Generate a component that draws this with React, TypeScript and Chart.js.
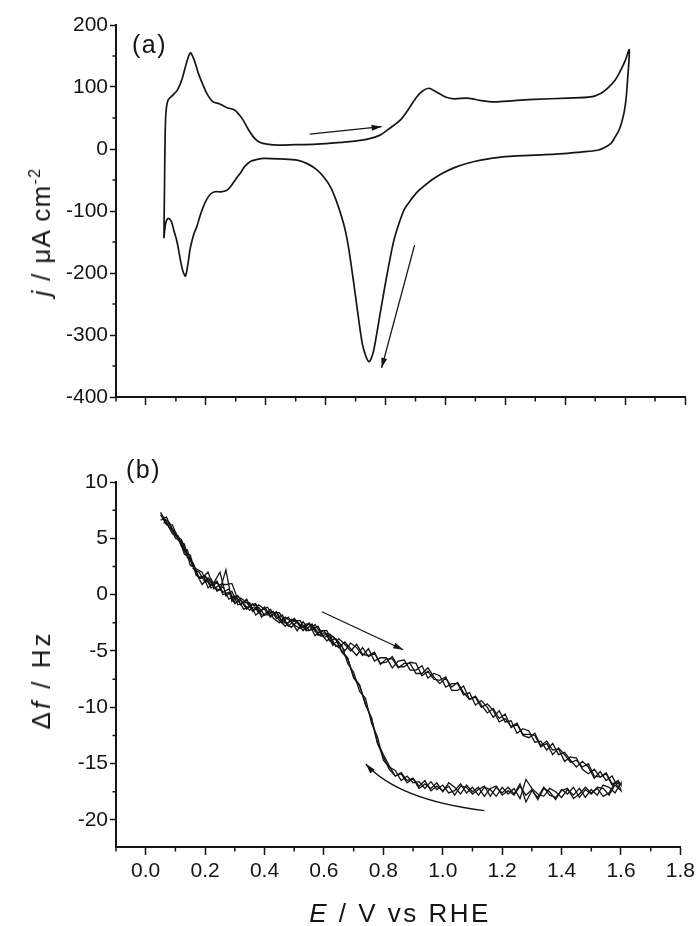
import React, { useEffect, useRef } from "react";
import { Chart, registerables } from "chart.js";

Chart.register(...registerables);

const FONT = "'Liberation Sans', Arial, Helvetica, sans-serif";
const INK = "#151515";

// ---------- Panel (a): cyclic voltammogram ----------
const cvAnodicE = [0.060, 0.062, 0.064, 0.067, 0.074, 0.090, 0.105, 0.120, 0.135, 0.148, 0.160, 0.175, 0.190, 0.205, 0.224, 0.245, 0.269, 0.296, 0.310, 0.324, 0.340, 0.358, 0.375, 0.391, 0.425, 0.500, 0.570, 0.680, 0.740, 0.780, 0.810, 0.850, 0.875, 0.904, 0.925, 0.945, 0.970, 1.000, 1.030, 1.074, 1.120, 1.163, 1.230, 1.296, 1.408, 1.486, 1.520, 1.542, 1.565, 1.580, 1.600, 1.614];
const cvAnodicJ = [-144, -60, 20, 60, 79, 87, 95, 112, 138, 155, 145, 122, 104, 88, 76, 73, 67, 63, 56, 47, 33, 20, 12, 9, 6.5, 7, 8, 12, 16, 22, 32, 47, 63, 84, 94, 98, 92, 84, 81, 82, 78, 76, 78, 80, 82, 84, 90, 98, 110, 122, 142, 160];
const cvCathodicE = [1.608, 1.603, 1.597, 1.588, 1.580, 1.565, 1.553, 1.530, 1.508, 1.450, 1.408, 1.296, 1.185, 1.118, 1.074, 1.030, 0.995, 0.960, 0.928, 0.905, 0.880, 0.862, 0.845, 0.828, 0.806, 0.784, 0.761, 0.752, 0.745, 0.735, 0.722, 0.700, 0.678, 0.665, 0.650, 0.633, 0.616, 0.595, 0.572, 0.540, 0.505, 0.450, 0.393, 0.370, 0.349, 0.330, 0.315, 0.302, 0.282, 0.269, 0.250, 0.230, 0.215, 0.202, 0.190, 0.180, 0.170, 0.160, 0.148, 0.140, 0.132, 0.124, 0.115, 0.104, 0.093, 0.085, 0.076, 0.070, 0.065, 0.060];
const cvCathodicJ = [110, 80, 60, 42, 31, 18, 9, 2, -2, -5, -7, -10, -13, -18, -23, -30, -38, -48, -60, -70, -85, -98, -120, -147, -200, -260, -324, -338, -343, -335, -313, -238, -163, -130, -104, -80, -61, -46, -34, -24, -18, -16, -15, -17, -20, -28, -39, -47, -61, -67, -69, -69, -73, -82, -95, -109, -125, -137, -160, -186, -205, -198, -179, -150, -131, -117, -112, -114, -122, -144];

// ---------- Panel (b): frequency change, three potential cycles ----------
const eForward = [0.05, 0.07, 0.09, 0.11, 0.13, 0.15, 0.17, 0.19, 0.21, 0.23, 0.25, 0.27, 0.29, 0.31, 0.33, 0.35, 0.37, 0.39, 0.41, 0.43, 0.45, 0.47, 0.49, 0.51, 0.53, 0.55, 0.57, 0.59, 0.61, 0.63, 0.65, 0.67, 0.69, 0.71, 0.73, 0.75, 0.77, 0.79, 0.81, 0.83, 0.85, 0.87, 0.89, 0.91, 0.93, 0.95, 0.97, 0.99, 1.01, 1.03, 1.05, 1.07, 1.09, 1.11, 1.13, 1.15, 1.17, 1.19, 1.21, 1.23, 1.25, 1.27, 1.29, 1.31, 1.33, 1.35, 1.37, 1.39, 1.41, 1.43, 1.45, 1.47, 1.49, 1.51, 1.53, 1.55, 1.57, 1.59, 1.60];
const eReverse = [1.60, 1.58, 1.56, 1.54, 1.52, 1.50, 1.48, 1.46, 1.44, 1.42, 1.40, 1.38, 1.36, 1.34, 1.32, 1.30, 1.28, 1.26, 1.24, 1.22, 1.20, 1.18, 1.16, 1.14, 1.12, 1.10, 1.08, 1.06, 1.04, 1.02, 1.00, 0.98, 0.96, 0.94, 0.92, 0.90, 0.88, 0.86, 0.84, 0.82, 0.80, 0.78, 0.76, 0.74, 0.72, 0.70, 0.68, 0.66, 0.64, 0.62, 0.60, 0.58, 0.56, 0.54, 0.52, 0.50, 0.48, 0.46, 0.44, 0.42, 0.40, 0.38, 0.36, 0.34, 0.32, 0.30, 0.28, 0.26, 0.24, 0.22, 0.20, 0.18, 0.16, 0.14, 0.12, 0.10, 0.08, 0.06];

const cycle1Forward = [7.1, 6.2, 6.2, 4.8, 4.5, 2.6, 2.3, 2.0, 0.6, 1.1, 2.0, -0.1, 0.3, -0.9, -0.7, -0.7, -1.8, -1.4, -1.1, -2.1, -2.5, -2.0, -2.4, -3.2, -2.4, -3.2, -2.65, -3.5, -4.1, -3.7, -4.2, -5.0, -4.3, -4.7, -5.4, -4.8, -5.9, -5.6, -5.6, -6.5, -5.9, -5.8, -6.7, -6.7, -6.3, -7.4, -7.0, -7.2, -8.2, -7.9, -7.9, -8.9, -8.7, -9.8, -9.4, -10.0, -10.9, -10.3, -11.3, -11.2, -12.3, -11.9, -12.1, -13.1, -13.0, -13.8, -13.2, -14.2, -14.0, -14.7, -15.3, -14.8, -15.3, -16.3, -15.7, -16.5, -16.1, -17.1, -16.8];
const cycle1Reverse = [-16.7, -17.6, -17.1, -16.9, -17.8, -17.3, -18.0, -17.2, -17.8, -17.3, -18.0, -17.5, -17.2, -17.9, -17.7, -17.2, -16.4, -18.1, -17.2, -17.7, -17.1, -17.9, -17.3, -17.1, -17.8, -17.1, -17.6, -16.8, -17.4, -17.6, -16.9, -17.3, -16.6, -17.2, -16.6, -16.7, -16.1, -16.5, -15.6, -15.3, -14.7, -12.6, -11.4, -9.2, -8.6, -6.9, -6.1, -4.5, -4.6, -3.6, -3.8, -2.8, -3.1, -3.2, -2.3, -2.3, -2.8, -1.8, -2.1, -1.3, -1.8, -1.1, -1.5, -0.4, -0.9, -0.1, -0.4, 0.7, 0.3, 1.4, 1.1, 2.0, 2.3, 4.0, 4.3, 5.6, 5.9, 6.9];
const cycle2Forward = [6.6, 6.9, 5.6, 5.2, 3.6, 3.2, 1.9, 0.9, 1.5, 0.6, 0.4, 2.2, -0.6, -0.1, -0.8, -1.4, -0.9, -2.0, -1.5, -1.6, -1.6, -2.5, -2.9, -2.4, -2.9, -2.6, -3.65, -3.2, -3.2, -4.3, -4.7, -4.2, -4.8, -5.4, -4.7, -5.5, -5.2, -6.1, -6.0, -5.5, -6.4, -6.4, -6.0, -6.1, -7.2, -6.8, -7.5, -7.6, -7.3, -8.5, -8.5, -8.1, -9.3, -9.0, -9.8, -10.5, -10.1, -11.0, -10.6, -11.8, -11.5, -12.5, -12.7, -12.3, -13.4, -13.0, -13.8, -13.7, -14.8, -14.4, -14.5, -15.5, -15.9, -15.5, -16.2, -15.8, -16.8, -16.6, -17.4];
const cycle2Reverse = [-17.4, -16.9, -17.8, -17.2, -17.1, -17.7, -17.3, -18.0, -17.1, -17.7, -17.3, -18.2, -17.5, -17.2, -18.2, -17.3, -17.8, -17.0, -17.8, -17.4, -17.8, -17.0, -17.2, -17.9, -17.1, -17.5, -16.9, -17.7, -17.1, -16.7, -17.5, -16.7, -17.2, -16.8, -17.2, -16.3, -16.7, -15.9, -16.1, -15.2, -14.2, -13.1, -10.9, -9.8, -8.1, -7.4, -5.6, -5.0, -3.9, -4.1, -3.2, -3.4, -2.6, -3.1, -2.7, -2.1, -2.5, -2.5, -1.6, -1.9, -1.1, -1.6, -0.8, -1.3, -0.5, -0.7, 0.5, 0.2, 1.1, 0.6, 1.6, 1.4, 2.8, 3.3, 4.8, 5.0, 6.3, 6.4];
const cycle3Forward = [7.3, 6.4, 5.4, 5.1, 3.8, 3.5, 1.7, 1.5, 2.0, 0.5, 0.9, 0.9, 1.0, -0.4, -1.3, -1.0, -0.8, -1.8, -1.8, -1.5, -2.3, -2.8, -2.2, -2.5, -3.2, -2.5, -3.25, -3.7, -3.5, -4.5, -3.9, -4.4, -5.0, -4.4, -5.3, -5.4, -5.1, -6.2, -5.7, -5.7, -6.5, -6.1, -6.1, -7.0, -7.0, -6.5, -7.3, -7.9, -7.4, -8.2, -7.8, -8.7, -9.3, -9.1, -10.0, -9.7, -10.3, -11.3, -11.0, -11.7, -11.4, -12.4, -12.4, -12.5, -13.5, -13.2, -14.2, -13.6, -14.2, -14.9, -14.7, -15.3, -15.0, -16.1, -16.2, -15.9, -16.9, -16.5, -16.9];
const cycle3Reverse = [-16.8, -16.7, -17.6, -17.9, -17.2, -17.6, -17.1, -17.7, -18.1, -17.2, -17.4, -18.0, -17.8, -17.1, -18.0, -17.4, -18.4, -16.8, -17.7, -17.1, -17.6, -17.1, -17.9, -17.0, -17.3, -17.7, -17.1, -17.0, -17.8, -17.0, -17.4, -17.0, -17.4, -16.5, -17.0, -16.3, -16.5, -15.8, -16.1, -15.5, -14.4, -13.2, -11.0, -9.7, -8.0, -7.3, -5.7, -5.1, -4.0, -3.5, -3.4, -3.6, -2.7, -2.6, -3.0, -2.7, -2.0, -2.4, -1.5, -2.0, -1.3, -0.9, -1.4, -0.7, -0.3, -0.8, 0.2, 0.0, 1.2, 0.8, 1.7, 1.5, 2.7, 3.4, 4.9, 5.2, 6.4, 6.8];

// ---------- Ticks ----------
const xTicks = [0.0, 0.2, 0.4, 0.6, 0.8, 1.0, 1.2, 1.4, 1.6, 1.8];
const xMinorTicks = [-0.1, 0.1, 0.3, 0.5, 0.7, 0.9, 1.1, 1.3, 1.5, 1.7];
const jTicks = [-400, -300, -200, -100, 0, 100, 200];
const jMinorTicks = [-350, -250, -150, -50, 50, 150];
const dfTicks = [-20, -15, -10, -5, 0, 5, 10];
const dfMinorTicks = [-17.5, -12.5, -7.5, -2.5, 2.5, 7.5];

// ---------- Sweep-direction arrows (data coordinates) ----------
const arrowsA = [
  { from: [0.547, 24], to: [0.787, 36] },
  { from: [0.897, -155], to: [0.787, -353] },
];
const arrowsB = [
  { from: [0.593, -1.52], to: [0.867, -4.89] },
  { from: [1.14, -19.17], ctrl: [0.85, -18.22], to: [0.741, -15.03] },
];

type ArrowDef = { from: number[]; to: number[]; ctrl?: number[] };

function toPoints(xs: number[], ys: number[]) {
  return xs.map((x, i) => ({ x, y: ys[i] }));
}

function decorPlugin(xMinor: number[], yMinor: number[], arrows: ArrowDef[]) {
  return {
    id: "decor",
    afterDraw(chart: any) {
      const { ctx, chartArea, scales } = chart;
      const xs = scales.x;
      const ys = scales.y;
      ctx.save();
      ctx.strokeStyle = INK;
      ctx.lineWidth = 1.5;
      ctx.beginPath();
      for (const v of xMinor) {
        const px = xs.getPixelForValue(v);
        ctx.moveTo(px, chartArea.bottom);
        ctx.lineTo(px, chartArea.bottom + 4.5);
      }
      for (const v of yMinor) {
        const py = ys.getPixelForValue(v);
        ctx.moveTo(chartArea.left, py);
        ctx.lineTo(chartArea.left - 3.5, py);
      }
      ctx.stroke();

      ctx.lineWidth = 1.3;
      ctx.fillStyle = INK;
      for (const a of arrows) {
        const p0 = [xs.getPixelForValue(a.from[0]), ys.getPixelForValue(a.from[1])];
        const p1 = [xs.getPixelForValue(a.to[0]), ys.getPixelForValue(a.to[1])];
        let dirFrom = p0;
        ctx.beginPath();
        ctx.moveTo(p0[0], p0[1]);
        if (a.ctrl) {
          const c = [xs.getPixelForValue(a.ctrl[0]), ys.getPixelForValue(a.ctrl[1])];
          ctx.quadraticCurveTo(c[0], c[1], p1[0], p1[1]);
          dirFrom = c;
        } else {
          ctx.lineTo(p1[0], p1[1]);
        }
        ctx.stroke();
        const ang = Math.atan2(p1[1] - dirFrom[1], p1[0] - dirFrom[0]);
        const len = 10;
        const half = 3;
        ctx.beginPath();
        ctx.moveTo(p1[0], p1[1]);
        ctx.lineTo(
          p1[0] - len * Math.cos(ang) + half * Math.sin(ang),
          p1[1] - len * Math.sin(ang) - half * Math.cos(ang)
        );
        ctx.lineTo(
          p1[0] - len * Math.cos(ang) - half * Math.sin(ang),
          p1[1] - len * Math.sin(ang) + half * Math.cos(ang)
        );
        ctx.closePath();
        ctx.fill();
      }
      ctx.restore();
    },
  };
}

function xScale(showLabels: boolean, height: number) {
  return {
    type: "linear" as const,
    min: -0.1,
    max: 1.8,
    afterBuildTicks: (s: any) => {
      s.ticks = xTicks.map((value) => ({ value }));
    },
    afterFit: (s: any) => {
      s.height = height;
    },
    ticks: {
      display: showLabels,
      autoSkip: false,
      maxRotation: 0,
      padding: 4,
      color: INK,
      font: { family: FONT, size: 21 },
      callback: (v: any) => Number(v).toFixed(1),
    },
    grid: {
      drawOnChartArea: false,
      drawTicks: true,
      tickLength: 8,
      tickWidth: 1.5,
      tickColor: INK,
    },
    border: { display: true, color: INK, width: 2 },
  };
}

function yScale(min: number, max: number, ticks: number[], width: number) {
  return {
    type: "linear" as const,
    min,
    max,
    afterBuildTicks: (s: any) => {
      s.ticks = ticks.map((value) => ({ value }));
    },
    afterFit: (s: any) => {
      s.width = width;
    },
    ticks: {
      autoSkip: false,
      padding: 2,
      color: INK,
      font: { family: FONT, size: 21 },
      callback: (v: any) => String(v),
    },
    grid: {
      drawOnChartArea: false,
      drawTicks: true,
      tickLength: 6,
      tickWidth: 1.5,
      tickColor: INK,
    },
    border: { display: true, color: INK, width: 2 },
  };
}

export default function App() {
  const refA = useRef<HTMLCanvasElement>(null);
  const refB = useRef<HTMLCanvasElement>(null);

  useEffect(() => {
    const charts: Chart[] = [];
    if (refA.current) {
      charts.push(
        new Chart(refA.current, {
          type: "scatter",
          data: {
            datasets: [
              {
                data: [...toPoints(cvAnodicE, cvAnodicJ), ...toPoints(cvCathodicE, cvCathodicJ)],
                showLine: true,
                borderColor: INK,
                borderWidth: 1.7,
                pointRadius: 0,
                tension: 0.3,
                fill: false,
              },
            ],
          },
          options: {
            animation: false,
            responsive: false,
            maintainAspectRatio: false,
            layout: { padding: { left: 0, right: 14, top: 25, bottom: 0 } },
            plugins: { legend: { display: false }, tooltip: { enabled: false } },
            scales: {
              x: xScale(false, 33),
              y: yScale(-400, 200, jTicks, 116),
            },
          } as any,
          plugins: [decorPlugin(xMinorTicks, jMinorTicks, arrowsA)],
        })
      );
    }
    if (refB.current) {
      const cycles = [
        [...toPoints(eForward, cycle1Forward), ...toPoints(eReverse, cycle1Reverse)],
        [...toPoints(eForward, cycle2Forward), ...toPoints(eReverse, cycle2Reverse)],
        [...toPoints(eForward, cycle3Forward), ...toPoints(eReverse, cycle3Reverse)],
      ];
      charts.push(
        new Chart(refB.current, {
          type: "scatter",
          data: {
            datasets: cycles.map((data) => ({
              data,
              showLine: true,
              borderColor: INK,
              borderWidth: 1.3,
              pointRadius: 0,
              tension: 0,
              fill: false,
            })),
          },
          options: {
            animation: false,
            responsive: false,
            maintainAspectRatio: false,
            layout: { padding: { left: 0, right: 14, top: 52, bottom: 0 } },
            plugins: { legend: { display: false }, tooltip: { enabled: false } },
            scales: {
              x: xScale(true, 79),
              y: yScale(-22.4, 10, dfTicks, 116),
            },
          } as any,
          plugins: [decorPlugin(xMinorTicks, dfMinorTicks, arrowsB)],
        })
      );
    }
    return () => charts.forEach((c) => c.destroy());
  }, []);

  const txt: React.CSSProperties = {
    position: "absolute",
    whiteSpace: "nowrap",
    lineHeight: 1,
    color: INK,
    fontFamily: FONT,
  };

  return (
    <div style={{ position: "absolute", left: 0, top: 0, width: 699, height: 926, background: "#fff" }}>
      <canvas ref={refA} width={699} height={430} style={{ position: "absolute", left: 0, top: 0 }} />
      <canvas ref={refB} width={699} height={496} style={{ position: "absolute", left: 0, top: 430 }} />

      <div style={{ ...txt, left: 132, top: 32, fontSize: 25, letterSpacing: 1.5 }}>(a)</div>
      <div style={{ ...txt, left: 126, top: 457, fontSize: 25, letterSpacing: 1.5 }}>(b)</div>

      <div
        style={{
          ...txt,
          left: 41,
          top: 232,
          fontSize: 26,
          letterSpacing: 1.3,
          transform: "translate(-50%, -50%) rotate(-90deg)",
        }}
      >
        <i>j</i> / μA cm
        <span style={{ fontSize: "0.62em", position: "relative", top: "-0.6em" }}>-2</span>
      </div>

      <div
        style={{
          ...txt,
          left: 41,
          top: 680,
          fontSize: 26,
          letterSpacing: 3,
          transform: "translate(-50%, -50%) rotate(-90deg)",
        }}
      >
        Δ<i>f</i> / Hz
      </div>

      <div
        style={{
          ...txt,
          left: 400,
          top: 900,
          fontSize: 26,
          letterSpacing: 2.5,
          transform: "translateX(-50%)",
        }}
      >
        <i>E</i> / V vs RHE
      </div>
    </div>
  );
}
